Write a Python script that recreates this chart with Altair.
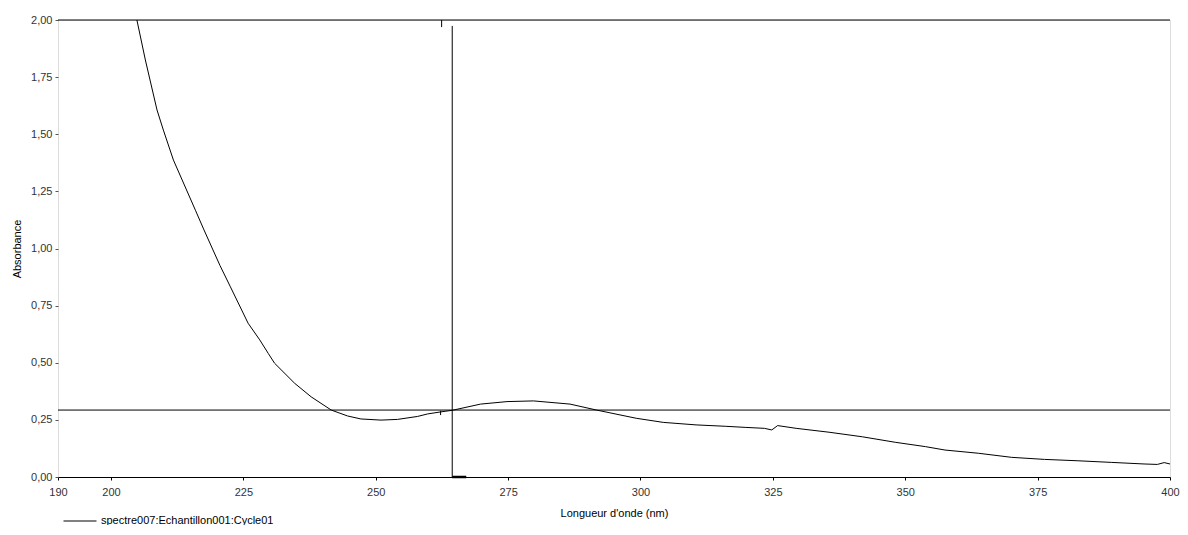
import altair as alt
import pandas as pd

# Spectrum
wavelength = [204.9, 206.5, 208.7, 209.9, 211.8, 216.0, 217.5, 220.6, 222.5, 225.9,
              228.1, 229.7, 230.9, 234.7, 237.8, 241.6, 244.7, 247.2, 251.0, 254.1,
              257.9, 259.8, 262.3, 264.5, 269.8, 274.8, 279.8, 286.7, 291.7, 299.2,
              304.3, 310.5, 316.0, 319.9, 323.4, 324.8, 325.9, 329.4, 335.6, 341.9,
              348.1, 353.8, 357.5, 363.8, 370.1, 376.3, 382.6, 388.9, 395.1, 397.6,
              398.9, 400.0]
absorbance = [2.000, 1.825, 1.606, 1.518, 1.387, 1.165, 1.085, 0.925, 0.835, 0.673,
              0.600, 0.541, 0.498, 0.410, 0.351, 0.293, 0.267, 0.254, 0.249, 0.252,
              0.265, 0.276, 0.285, 0.292, 0.319, 0.330, 0.333, 0.319, 0.293, 0.257,
              0.239, 0.228, 0.222, 0.217, 0.213, 0.206, 0.225, 0.213, 0.196, 0.176,
              0.152, 0.133, 0.118, 0.104, 0.086, 0.077, 0.071, 0.064, 0.057, 0.055,
              0.063, 0.057]
series_name = "spectre007:Echantillon001:Cycle01"

x_ticks = [190, 200, 225, 250, 275, 300, 325, 350, 375, 400]
y_ticks = [0, 0.25, 0.5, 0.75, 1.0, 1.25, 1.5, 1.75, 2.0]

# Cursor (crosshair) values
cursor_nm = [264.45]
cursor_abs = [0.293]
cursor_top = [1.974]
# small cursor markers
marker_nm = [262.45, 262.25]
marker_lo = [1.969, 0.271]
marker_hi = [2.0, 0.290]
base_nm = [264.45]
base_nm2 = [267.1]

df = pd.DataFrame({"nm": wavelength, "A": absorbance, "series": series_name})

xs = alt.Scale(domain=[190, 400], nice=False, zero=False)
ys = alt.Scale(domain=[0, 2], nice=False)

x_axis = alt.Axis(values=x_ticks, title="Longueur d'onde (nm)", format="d",
                  labelFontSize=11, labelColor="#333333", labelPadding=6,
                  labelFlush=False,
                  tickSize=3, tickColor="#000000", domainColor="#000000",
                  titleFontSize=11, titleFontWeight="normal", titleColor="#000000",
                  titlePadding=10, grid=False)
y_axis = alt.Axis(values=y_ticks, title="Absorbance",
                  labelExpr="replace(format(datum.value, '.2f'), '.', ',')",
                  labelFontSize=11, labelColor="#333333", labelPadding=3,
                  labelFlush=False,
                  tickSize=3, tickColor="#555555", domain=False,
                  titleFontSize=11, titleFontWeight="normal", titleColor="#000000",
                  titlePadding=8, grid=False)

curve = alt.Chart(df).mark_line(strokeWidth=1, clip=True).encode(
    x=alt.X("nm:Q", scale=xs, axis=x_axis),
    y=alt.Y("A:Q", scale=ys, axis=y_axis),
    color=alt.Color("series:N", scale=alt.Scale(range=["#000000"]),
                    legend=alt.Legend(title=None, orient="none", legendX=5, legendY=484,
                                      symbolType="stroke", symbolSize=1089,
                                      symbolStrokeWidth=1, symbolStrokeColor="#555555",
                                      labelFontSize=11, labelColor="#000000",
                                      labelLimit=0, labelOffset=4, padding=0)),
)

top_border = alt.Chart(pd.DataFrame({"A": [2.0]})).mark_rule(color="#000000", strokeWidth=1).encode(
    y=alt.Y("A:Q", scale=ys, axis=y_axis)
)

h_cursor = alt.Chart(pd.DataFrame({"A": cursor_abs})).mark_rule(color="#000000", strokeWidth=1).encode(
    y=alt.Y("A:Q", scale=ys, axis=y_axis)
)

v_cursor = alt.Chart(pd.DataFrame({"nm": cursor_nm, "A": [0.0], "A2": cursor_top})).mark_rule(
    color="#000000", strokeWidth=1).encode(
    x=alt.X("nm:Q", scale=xs, axis=x_axis),
    y=alt.Y("A:Q", scale=ys, axis=y_axis),
    y2="A2:Q",
)

markers = alt.Chart(pd.DataFrame({"nm": marker_nm, "A": marker_lo, "A2": marker_hi})).mark_rule(
    color="#000000", strokeWidth=1).encode(
    x=alt.X("nm:Q", scale=xs, axis=x_axis),
    y=alt.Y("A:Q", scale=ys, axis=y_axis),
    y2="A2:Q",
)

base_mark = alt.Chart(pd.DataFrame({"nm": base_nm, "nm2": base_nm2, "A": [0.0]})).mark_rule(
    color="#000000", strokeWidth=2.5).encode(
    x=alt.X("nm:Q", scale=xs, axis=x_axis),
    x2="nm2:Q",
    y=alt.Y("A:Q", scale=ys, axis=y_axis),
)

chart = alt.layer(curve, top_border, h_cursor, v_cursor, markers, base_mark).properties(
    width=1112, height=457,
    autosize=alt.AutoSizeParams(type="none"),
    padding={"left": 50, "top": 12, "right": 10, "bottom": 48},
    background="#ffffff",
).configure_view(
    stroke="#808080", strokeWidth=1
).configure(
    font="Liberation Sans"
)

chart.save("out.html", embed_options={"renderer": "svg", "actions": False})
